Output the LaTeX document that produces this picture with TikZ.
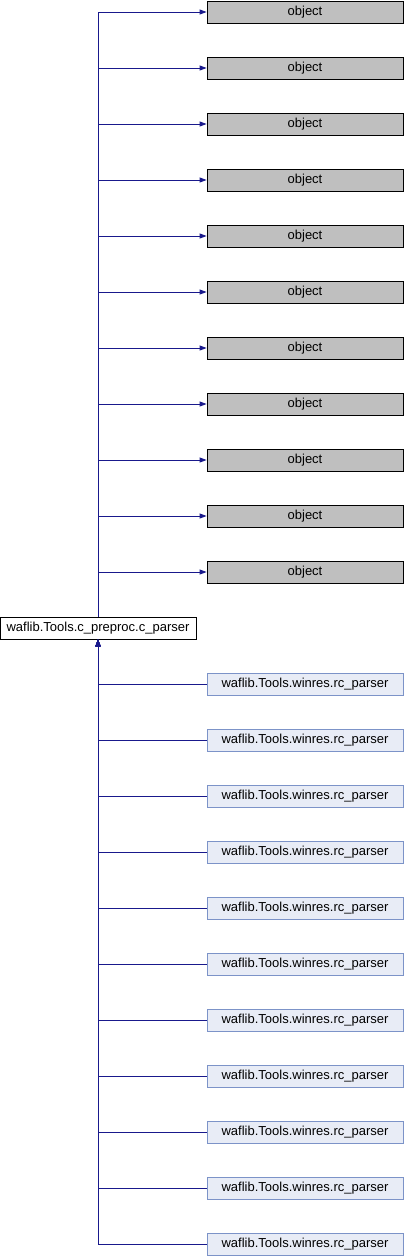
\documentclass[tikz,border=0pt]{standalone}
\usepackage{fontspec}
\setmainfont{Liberation Sans}
\usetikzlibrary{arrows.meta}
\definecolor{edgecol}{RGB}{25,25,140}
\definecolor{objfill}{RGB}{191,191,191}
\definecolor{rcfill}{RGB}{232,236,246}
\definecolor{rcdraw}{RGB}{124,147,200}
\tikzset{
  box/.style={draw, rectangle, minimum width=196pt, minimum height=22pt, inner sep=0pt, line width=0.8pt, font=\fontsize{13}{15}\selectfont},
  objbox/.style={box, fill=objfill, draw=black},
  rcbox/.style={box, fill=rcfill, draw=rcdraw},
  cpbox/.style={box, fill=white, draw=black},
  edge/.style={draw=edgecol, line width=0.9pt, -{Stealth[length=7pt,width=5pt,inset=0pt]}},
}
\begin{document}
\begin{tikzpicture}[x=1pt,y=-1pt]
\useasboundingbox (0,0) rectangle (404,1256);
\node[cpbox] (cp) at (98,628) {waflib.Tools.c\_preproc.c\_parser};
\foreach \i in {0,...,10} {
  \node[objbox] (o\i) at (305,{12+56*\i}) {object};
  \draw[edge] (cp.north) |- (o\i.west);
}
\foreach \i in {0,...,10} {
  \node[rcbox] (r\i) at (305,{684+56*\i}) {waflib.Tools.winres.rc\_parser};
  \draw[edge] (r\i.west) -| (cp.south);
}
\end{tikzpicture}
\end{document}
